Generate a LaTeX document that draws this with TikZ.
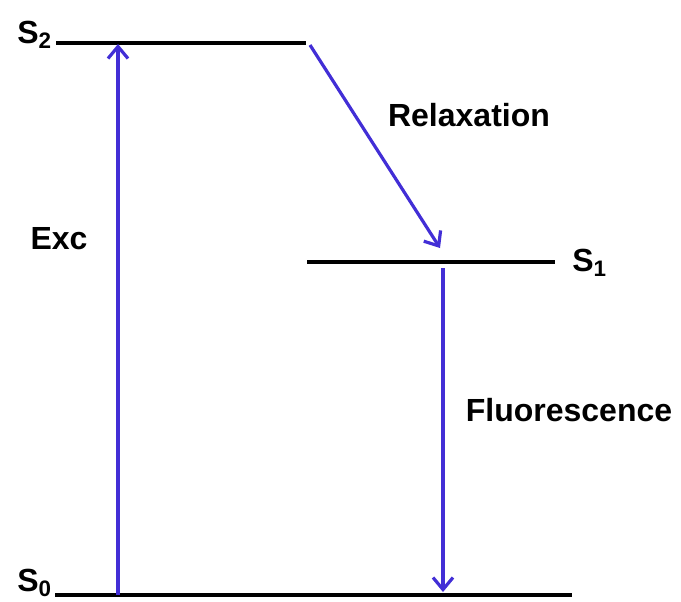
\documentclass[tikz,border=0pt]{standalone}
\usepackage{fontspec}
\setmainfont{Liberation Sans}
\usetikzlibrary{arrows.meta}
\definecolor{transblue}{RGB}{66,46,214}

\begin{document}
\begin{tikzpicture}[
  x=0.75pt, y=-0.75pt,
  level/.style={line width=2.4pt, black},
  arr/.style={-{Straight Barb[length=9pt, width=15pt, line width=2.4pt]}, line width=2.4pt, transblue},
  lbl/.style={font=\bfseries\fontsize{24}{28}\selectfont, inner sep=0pt}
]
\useasboundingbox (0,0) rectangle (681,601);

% energy levels
\coordinate (s2a) at (56,43);
\coordinate (s2b) at (306,43);
\coordinate (s1a) at (307,262);
\coordinate (s1b) at (555,262);
\coordinate (s0a) at (55,595);
\coordinate (s0b) at (572,595);

\node[lbl, anchor=south east] (s2) at (52,49) {S\textsubscript{2}};
\node[lbl, anchor=south west] (s1) at (572,277) {S\textsubscript{1}};
\node[lbl, anchor=south east] (s0) at (52,597) {S\textsubscript{0}};

\node[lbl] (exc) at (59,239) {Exc};
\node[lbl] (relax) at (469,115) {Relaxation};
\node[lbl] (fluor) at (569,410) {Fluorescence};

\draw[level] (s2a) -- (s2b);
\draw[level] (s1a) -- (s1b);
\draw[level] (s0a) -- (s0b);

% transitions
\coordinate (excfrom) at (118,595);
\coordinate (excto) at (118,44);
\coordinate (relfrom) at (310,45);
\coordinate (relto) at (440,248);
\coordinate (flfrom) at (443,268);
\coordinate (flto) at (443,592);

\draw[arr] (excfrom) -- (excto);
\draw[arr] (relfrom) -- (relto);
\draw[arr] (flfrom) -- (flto);
\end{tikzpicture}
\end{document}
